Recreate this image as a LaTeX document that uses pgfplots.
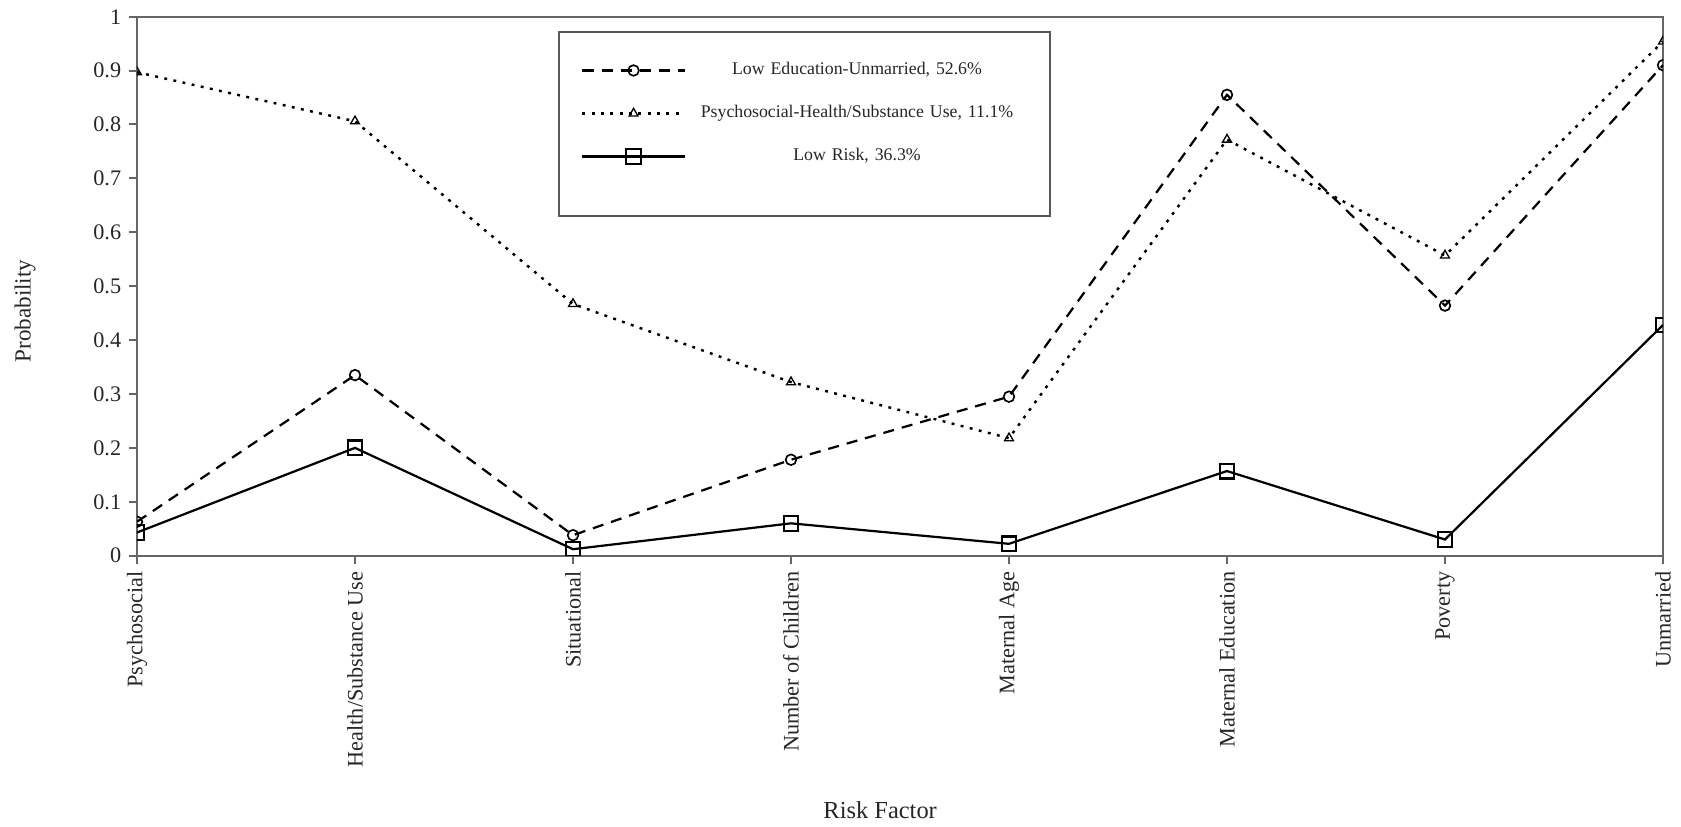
\documentclass[border=0pt]{standalone}
\usepackage{fontspec}
\setmainfont{Liberation Serif}
\usepackage{pgfplots}
\pgfplotsset{compat=1.18}
\begin{document}
\begin{tikzpicture}
\begin{axis}[
  scale only axis,
  width=686.7pt, height=242.55pt,
  xmin=0, xmax=7, ymin=0, ymax=1,
  xtick={0,1,2,3,4,5,6,7},
  xticklabels={Psychosocial,Health/Substance Use,Situational,Number of Children,Maternal Age,Maternal Education,Poverty,Unmarried},
  xticklabel style={rotate=90, anchor=east, font=\fontsize{10}{12}\selectfont, text=black!85},
  ytick={0,0.1,0.2,0.3,0.4,0.5,0.6,0.7,0.8,0.9,1},
  yticklabel style={font=\fontsize{10}{12}\selectfont, text=black!85},
  /pgf/number format/assume math mode=true,
  /pgf/number format/fixed,
  /pgf/number format/precision=1,
  tick align=outside,
  tick pos=left,
  major tick length=3.6pt,
  axis line style={black!60, line width=0.9pt},
  tick style={black!60, line width=0.9pt},
  clip marker paths=true,
  xlabel={Risk Factor},
  ylabel={Probability},
  xlabel style={at={(axis description cs:0.487,-0.472)}, anchor=center, font=\fontsize{11}{13}\selectfont, text=black!85},
  ylabel style={at={(axis description cs:-0.0734,0.454)}, anchor=center, font=\fontsize{10.4}{12}\selectfont, text=black!85},
  legend cell align=center,
  legend image code/.code={
    \draw[#1] (0pt,0pt) -- (46pt,0pt);
    \draw[#1, mark repeat=2, mark phase=2] plot coordinates {(0pt,0pt) (23pt,0pt) (46pt,0pt)};
  },
  legend style={
    at={(axis description cs:0.2759,0.9735)}, anchor=north west,
    draw=black!65, line width=0.9pt,
    font=\fontsize{8}{9.6}\selectfont, text=black!85,
    inner xsep=10pt, inner ysep=11.8pt,
    row sep=8.3pt, column sep=0pt,
    nodes={text width=150pt, align=center},
  },
]
\addplot[black, line width=1pt, dash pattern=on 5pt off 3.6pt,
  mark=o, mark size=2.4pt, mark options={solid, line width=0.75pt}]
  coordinates {(0,0.063) (1,0.335) (2,0.038) (3,0.178) (4,0.295) (5,0.855) (6,0.464) (7,0.910)};
\addlegendentry{Low Education-Unmarried, 52.6\%}
\addplot[black, line width=1.1pt, dash pattern=on 1.3pt off 2.9pt,
  mark=triangle, mark size=2.3pt, mark options={solid, line width=0.6pt}]
  coordinates {(0,0.897) (1,0.806) (2,0.467) (3,0.322) (4,0.218) (5,0.772) (6,0.557) (7,0.954)};
\addlegendentry{Psychosocial-Health/Substance Use, 11.1\%}
\addplot[black, line width=1pt,
  mark=square, mark size=3.3pt, mark options={solid, line width=1pt}]
  coordinates {(0,0.043) (1,0.200) (2,0.012) (3,0.060) (4,0.022) (5,0.157) (6,0.030) (7,0.428)};
\addlegendentry{Low Risk, 36.3\%}
\addlegendimage{empty legend}
\addlegendentry[text height=0pt, text depth=0pt, inner sep=0pt]{}
\end{axis}
\path ([xshift=-61.65pt,yshift=-121.2pt]current axis.south west) rectangle ([xshift=8.1pt,yshift=7.5pt]current axis.north east);
\end{tikzpicture}
\end{document}
